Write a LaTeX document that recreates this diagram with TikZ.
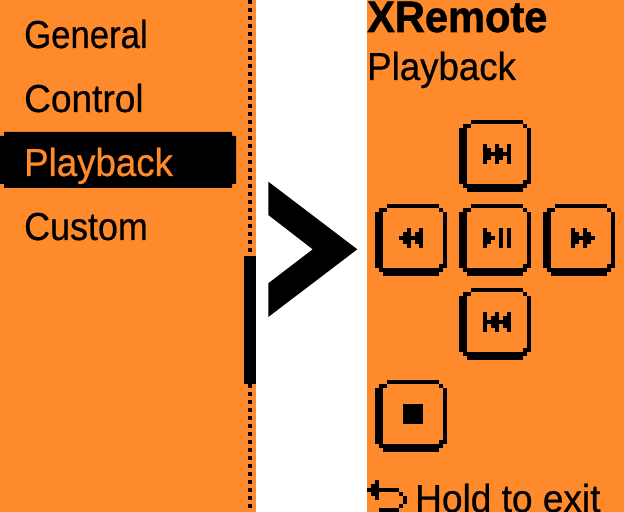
\documentclass[tikz,border=0pt]{standalone}
\usepackage{fontspec}
\setmainfont{Liberation Sans}[FakeBold=0.6, BoldFeatures={FakeBold=1.2}]
\usetikzlibrary{positioning}
\definecolor{screen}{HTML}{FF8A2B}

\begin{document}
\begin{tikzpicture}[
  x=1bp, y=-1bp,
  menuitem/.style={anchor=base west, inner sep=0pt, transform shape, font=\fontsize{39bp}{39bp}\selectfont},
  titleitem/.style={anchor=base west, inner sep=0pt, transform shape, font=\fontsize{44bp}{44bp}\selectfont\bfseries},
  pixels/.style={x=4bp, y=-4bp},
  % outline of a key, then the columns of its glyph as col/from/to
  pics/keycap/.style={code={
    \begin{scope}[pixels]
    \foreach \xa/\ya/\xb/\yb in {3/0/16/1, 1/1/3/2, 16/1/17/2, 0/2/2/16, 17/2/18/16,
                                 1/16/2/17, 16/15/17/17, 2/16/16/18}
      \fill (\xa,\ya) rectangle (\xb,\yb);
    \foreach \col/\from/\to in {#1}
      \fill (\col,\from) rectangle (\col+1,\to);
    \end{scope}
  }}
]
\useasboundingbox (0,0) rectangle (624,512);
\clip (0,0) rectangle (624,512);
\fill[white] (0,0) rectangle (624,512);

% the two screens
\fill[screen] (0,0) rectangle (256,512);
\fill[screen] (367,0) rectangle (624,512);

% left screen: scroll track and thumb
\foreach \k in {0,...,63}
  \fill (248,8*\k) rectangle +(4,4);
\fill (244,256) rectangle (256,384);

% left screen: menu
\fill (0,136) -| (4,132) -| (232,136) -| (236,184) -| (232,188) -| (4,184) -| (0,136) -- cycle;
\node[menuitem, xscale=0.89] (general) at (24,48) {General};
\node[menuitem, xscale=0.95] (control) at (24,112) {Control};
\node[menuitem, xscale=0.94, text=screen] (playback) at (24,176) {Playback};
\node[menuitem, xscale=0.92] (custom) at (24,240) {Custom};

% big chevron between the screens
\fill (268.3,181.7) -- (357.3,249.3) -- (268.3,317) -- (268.3,283.3) -- (312.7,249.3) -- (268.3,215) -- cycle;

% right screen: headings
\node[titleitem, xscale=0.945] (xremote) at (367,32) {XRemote};
\node[menuitem, xscale=0.94] (mode) at (367,80) {Playback};

% right screen: keys
\pic (next) at (459,120) {keycap={6/6/11,7/7/10,8/8/9,9/6/11,10/7/10,11/8/9,12/6/11}};
\pic (rew) at (375,204) {keycap={6/8/9,7/7/10,8/6/11,9/8/9,10/7/10,11/6/11}};
\pic (play) at (459,204) {keycap={6/6/11,7/7/10,8/8/9,10/6/11,12/6/11}};
\pic (fwd) at (543,204) {keycap={7/6/11,8/7/10,9/8/9,10/6/11,11/7/10,12/8/9}};
\pic (prev) at (459,288) {keycap={6/6/11,7/8/9,8/7/10,9/6/11,10/8/9,11/7/10,12/6/11}};
\pic (stop) at (375,380) {keycap={7/6/11,8/6/11,9/6/11,10/6/11,11/6/11}};

% right screen: footer
\foreach \xa/\ya/\xb/\yb in {367/488/371/492, 371/484/375/496, 375/480/379/500, 379/488/399/492,
                             399/492/403/496, 403/496/407/504, 399/504/403/508, 379/508/399/512}
  \fill (\xa,\ya) rectangle (\xb,\yb);
\node[menuitem, xscale=0.95] (hold) at (415,512) {Hold to exit};

\end{tikzpicture}
\end{document}
